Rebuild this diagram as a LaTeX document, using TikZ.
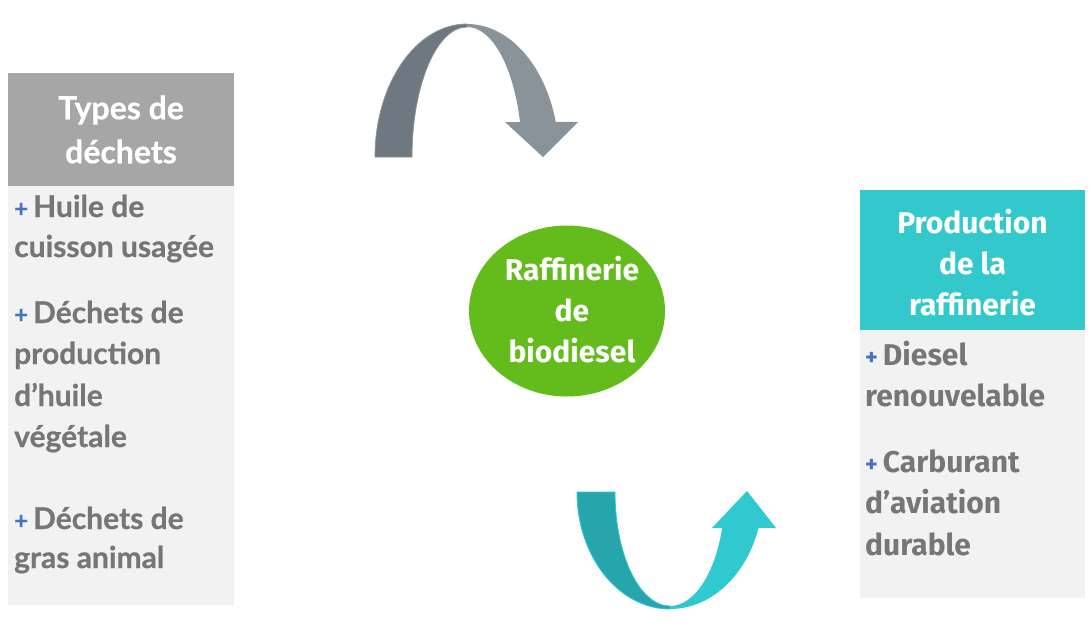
\documentclass[tikz,border=0pt]{standalone}
\usepackage{fontspec}
\usetikzlibrary{shapes.geometric}
\setmainfont{Lato}[BoldFeatures={FakeBold=0.6}]
\newfontfamily\rfont{Fira Sans}
\definecolor{hdgray}{HTML}{A6A6A6}
\definecolor{bodybg}{HTML}{F2F2F2}
\definecolor{txtgray}{HTML}{767676}
\definecolor{plusblue}{HTML}{4472C4}
\definecolor{hdteal}{HTML}{33C9CC}
\definecolor{circgreen}{HTML}{64BC1C}
\definecolor{arrdark}{HTML}{6F7780}
\definecolor{arrlight}{HTML}{8B939A}
\definecolor{tealdark}{HTML}{27A5AC}
\definecolor{teallight}{HTML}{31C9D0}
\newcommand{\pl}{{\color{plusblue}\fontsize{24}{24}\selectfont+}\hspace{5pt}}
\tikzset{
  boxL/.style={rectangle, inner sep=0, outer sep=0, anchor=north west},
  hdtxt/.style={text=white, align=center, font=\bfseries\fontsize{32}{44}\selectfont},
  hdtxtR/.style={text=white, align=center, font=\rfont\bfseries\fontsize{30}{41}\selectfont},
  itemL/.style={anchor=base west, inner sep=0, text=txtgray, font=\bfseries\fontsize{30}{40}\selectfont},
  itemR/.style={anchor=base west, inner sep=0, text=txtgray, font=\rfont\bfseries\fontsize{30}{41}\selectfont},
  circtxt/.style={text=white, align=center, font=\rfont\bfseries\fontsize{30}{41}\selectfont}
}
\begin{document}
\begin{tikzpicture}[x=1pt,y=-1pt]
\useasboundingbox (0,0) rectangle (1092,630);
\fill[white] (0,0) rectangle (1092,630);

% left box
\node[boxL, fill=bodybg, minimum width=226pt, minimum height=419pt] (lbody) at (8,186) {};
\node[boxL, fill=hdgray, minimum width=226pt, minimum height=113pt] (lhead) at (8,73) {};
\node[hdtxt] (lheadt) at (lhead.center) {Types de\\déchets};

\node[itemL] (l1) at (14,217) {\pl Huile de};
\node[itemL] (l2) at (14,257) {cuisson usagée};
\node[itemL] (l3) at (14,323) {\pl Déchets de};
\node[itemL] (l4) at (14,364) {production};
\node[itemL] (l5) at (14,406) {d’huile};
\node[itemL] (l6) at (14,447) {végétale};
\node[itemL] (l7) at (14,529) {\pl Déchets de};
\node[itemL] (l8) at (14,568) {gras animal};

% right box
\node[boxL, fill=bodybg, minimum width=225pt, minimum height=268pt] (rbody) at (860,330) {};
\node[boxL, fill=hdteal, minimum width=225pt, minimum height=140pt] (rhead) at (860,190) {};
\node[hdtxtR] (rheadt) at ([yshift=-3pt]rhead.center) {Production\\de la\\raffinerie};

\node[itemR] (r1) at (865,365) {\pl Diesel};
\node[itemR] (r2) at (865,406) {renouvelable};
\node[itemR] (r3) at (865,472) {\pl Carburant};
\node[itemR] (r4) at (865,513) {d’aviation};
\node[itemR] (r5) at (865,555) {durable};

% circle
\node[ellipse, fill=circgreen, minimum width=196pt, minimum height=171pt, inner sep=0] (circ) at (567,311) {};
\node[circtxt] (circt) at (572,310) {Raffinerie\\de\\biodiesel};

% top arrow (grey)
\fill[arrdark, draw=arrlight, line width=0.8pt]
  (375,157) arc[start angle=180, end angle=270, x radius=92, y radius=133]
  -- (467,27) arc[start angle=270, end angle=180, x radius=55, y radius=130] -- cycle;
\fill[arrlight]
  (467,24) arc[start angle=270, end angle=344.7, x radius=92, y radius=133]
  -- (578,122) -- (543,157) -- (505,122) -- (520,122)
  arc[start angle=344.4, end angle=270, x radius=55, y radius=130] -- cycle;

% bottom arrow (teal)
\fill[tealdark, draw=teallight, line width=0.8pt]
  (577,492) arc[start angle=180, end angle=90, x radius=93, y radius=117]
  -- (670,606) arc[start angle=90, end angle=180, x radius=55, y radius=114] -- cycle;
\fill[teallight]
  (670,609) arc[start angle=90, end angle=17.9, x radius=93, y radius=117]
  -- (776,528) -- (747,491) -- (712,528) -- (722.2,528)
  arc[start angle=18.4, end angle=90, x radius=55, y radius=114] -- cycle;
\end{tikzpicture}
\end{document}
